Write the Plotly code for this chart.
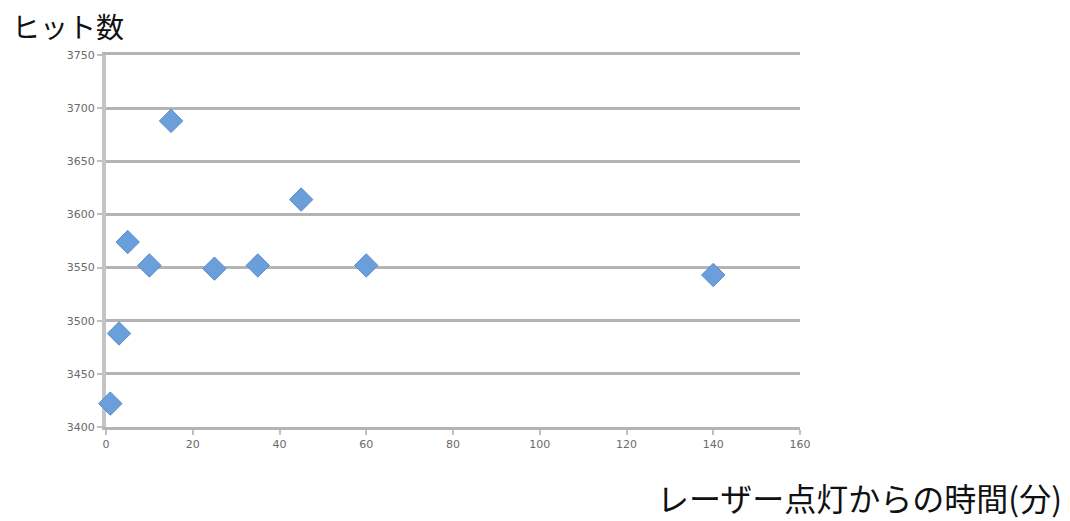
import plotly.graph_objects as go

minutes = [1, 3, 5, 10, 15, 25, 35, 45, 60, 140]
hits = [3422, 3488, 3574, 3552, 3688, 3549, 3552, 3614, 3552, 3543]

x_ticks = [0, 20, 40, 60, 80, 100, 120, 140, 160]
y_ticks = [3400, 3450, 3500, 3550, 3600, 3650, 3700, 3750]

y_title = "ヒット数"
x_title = "レーザー点灯からの時間(分)"

font_jp = "Noto Sans CJK JP"

fig = go.Figure()
fig.add_trace(go.Scatter(
    x=minutes, y=hits, mode="markers", cliponaxis=False,
    marker=dict(symbol="diamond", size=18, color="#6b9fdc",
                line=dict(color="#5a8cc8", width=1)),
    showlegend=False,
))

fig.update_layout(
    width=1070, height=521,
    margin=dict(l=106, r=270, t=55, b=94),
    paper_bgcolor="white", plot_bgcolor="white",
    font=dict(family=font_jp, color="#555555"),
    xaxis=dict(
        range=[0, 160], tickvals=x_ticks, ticktext=[str(v) for v in x_ticks],
        showgrid=False, zeroline=False, layer="below traces",
        showline=True, linecolor="#b4b4b4", linewidth=3, mirror=True,
        ticks="outside", ticklen=5, tickwidth=2, tickcolor="#c0c0c0",
        tickfont=dict(size=11, color="#6a6a6a", family="DejaVu Sans"),
    ),
    yaxis=dict(
        range=[3400, 3750], tickvals=y_ticks, ticktext=[str(v) for v in y_ticks],
        showgrid=True, gridcolor="#b4b4b4", gridwidth=3,
        zeroline=False, layer="below traces",
        showline=True, linecolor="#c4c4c4", linewidth=4,
        ticks="outside", ticklen=5, tickwidth=2, tickcolor="#c0c0c0",
        tickfont=dict(size=11, color="#6a6a6a", family="DejaVu Sans"),
    ),
    annotations=[
        dict(text=y_title, xref="paper", yref="paper", x=-96/694, y=1 + 29/372,
             xanchor="left", yanchor="middle", showarrow=False,
             font=dict(size=28, color="#111111", family=font_jp)),
        dict(text=x_title, xref="paper", yref="paper", x=(1064 - 106)/694, y=-(497 - 427)/372,
             xanchor="right", yanchor="middle", showarrow=False,
             font=dict(size=32, color="#111111", family=font_jp)),
    ],
)

fig.write_html("out.html")
